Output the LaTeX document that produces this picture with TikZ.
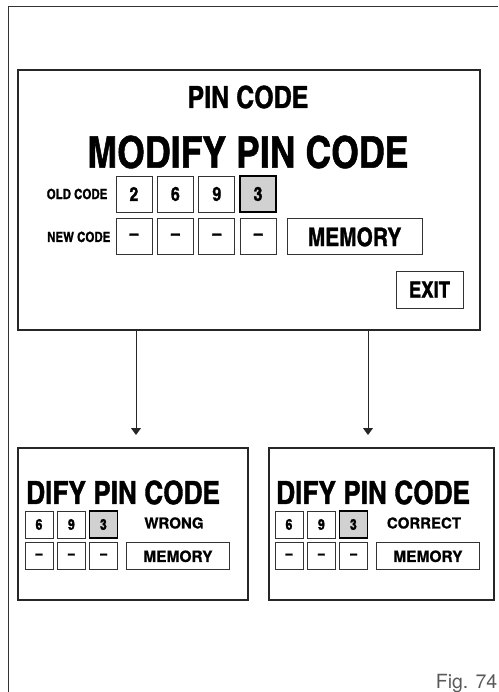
\documentclass[tikz,border=0pt]{standalone}
\usepackage{fontspec}
\setmainfont{TeX Gyre Heros}
\newfontfamily\condfont{texgyreheroscn-bold.otf}[FakeBold=1.2]
\newfontfamily\labelfont{texgyreheros-bold.otf}[FakeBold=0.8]
\usetikzlibrary{arrows.meta, positioning}

\begin{document}
\begin{tikzpicture}[
    x=1pt, y=-1pt,
    >={Triangle[width=10pt,length=7pt]},
    screenbox/.style={draw=black!85, line width=1.3pt, inner sep=0pt},
    panelbox/.style={draw=black!85, line width=1.1pt, inner sep=0pt},
    keybox/.style={draw=black!80, line width=0.9pt, inner sep=0pt,
        minimum width=36pt, minimum height=36pt,
        font=\condfont\fontsize{19.5}{19.5}\selectfont},
    selbox/.style={keybox, draw=black, line width=1.6pt, fill=black!18},
    smallkey/.style={draw=black!80, line width=0.8pt, inner sep=0pt,
        minimum width=28pt, minimum height=27pt,
        font=\condfont\fontsize{15}{15}\selectfont},
    smallsel/.style={smallkey, draw=black, line width=1.4pt, fill=black!18},
    rowlabel/.style={inner sep=0pt, font=\condfont\fontsize{14}{15}\selectfont},
    msgtext/.style={inner sep=0pt, font=\labelfont\fontsize{15}{16}\selectfont},
    arrowline/.style={->, line width=0.8pt, draw=black!85}
]
\useasboundingbox (0,0) rectangle (498,692);

% page frame
\draw[line width=1.1pt, draw=black!80] (8.5,692) -- (8.5,6.5) -- (498,6.5);

% Screen
\node[screenbox, minimum width=462pt, minimum height=260pt] (screen) at (249,200) {};
\node[inner sep=0pt, font=\condfont\fontsize{30.5}{30.5}\selectfont] (pintitle) at (248,97) {PIN CODE};
\node[inner sep=0pt, font=\condfont\fontsize{43.5}{43.5}\selectfont] (modify) at (248,152) {MODIFY PIN CODE};

\node[keybox] (old1) at (134,194) {2};
\node[keybox, right=4.5pt of old1] (old2) {6};
\node[keybox, right=4.5pt of old2] (old3) {9};
\node[selbox, right=4pt of old3] (old4) {3};
\node[rowlabel, left=8pt of old1] (oldlabel) {OLD CODE};

\node[keybox, below=6pt of old1] (new1) {–};
\node[keybox, right=4.5pt of new1] (new2) {–};
\node[keybox, right=4.5pt of new2] (new3) {–};
\node[keybox, right=4.5pt of new3] (new4) {–};
\node[rowlabel, left=5pt of new1] (newlabel) {NEW CODE};
\node[keybox, minimum width=135pt, right=10pt of new4,
    font=\condfont\fontsize{25.5}{25.5}\selectfont] (memory) {MEMORY};

\node[keybox, minimum width=67pt, minimum height=37pt,
    font=\condfont\fontsize{22.5}{22.5}\selectfont] (exit) at (429.5,289.5) {EXIT};

% Lower panels
\node[panelbox, minimum width=230pt, minimum height=152pt] (wrongpanel) at (133,524) {};
\node[panelbox, minimum width=225pt, minimum height=152pt] (rightpanel) at (381.5,524) {};

\coordinate (wtip) at (136,435);
\coordinate (rtip) at (368,435);
\draw[arrowline] (screen.south -| wtip) -- (wtip);
\draw[arrowline] (screen.south -| rtip) -- (rtip);

% wrong code
\node[inner sep=0pt, anchor=west, font=\condfont\fontsize{32}{32}\selectfont] (wrongtitle) at (26,492.5) {DIFY PIN CODE};
\node[smallkey] (w1) at (39,524.5) {6};
\node[smallkey, right=3.5pt of w1] (w2) {9};
\node[smallsel, right=3pt of w2] (w3) {3};
\node[smallkey, below=4pt of w1] (wn1) {–};
\node[smallkey, right=3.5pt of wn1] (wn2) {–};
\node[smallkey, right=3.5pt of wn2] (wn3) {–};
\node[smallkey, minimum width=103pt, right=8pt of wn3,
    font=\labelfont\fontsize{15.5}{16}\selectfont] (wmemory) {MEMORY};
\node[msgtext] (wrongmsg) at (174,523) {WRONG};

% correct code
\node[inner sep=0pt, anchor=west, font=\condfont\fontsize{32}{32}\selectfont] (righttitle) at (276,492.5) {DIFY PIN CODE};
\node[smallkey] (r1) at (289,524.5) {6};
\node[smallkey, right=3.5pt of r1] (r2) {9};
\node[smallsel, right=3pt of r2] (r3) {3};
\node[smallkey, below=4pt of r1] (rn1) {–};
\node[smallkey, right=3.5pt of rn1] (rn2) {–};
\node[smallkey, right=3.5pt of rn2] (rn3) {–};
\node[smallkey, minimum width=103pt, right=8pt of rn3,
    font=\labelfont\fontsize{15.5}{16}\selectfont] (rmemory) {MEMORY};
\node[msgtext] (rightmsg) at (424,523) {CORRECT};

\node[inner sep=0pt, anchor=base east, text=black!65,
    font=\fontsize{19.5}{19.5}\selectfont] (figlabel) at (497.5,688) {Fig. 74};
\end{tikzpicture}
\end{document}
